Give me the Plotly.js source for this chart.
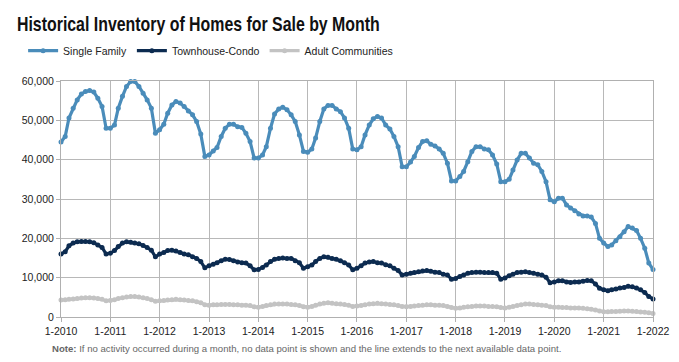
<!DOCTYPE html>
<html>
<head>
<meta charset="utf-8">
<script src="https://cdn.plot.ly/plotly-3.0.1.min.js"></script>
<style>
html,body{margin:0;padding:0;background:#fff;}
#chart{width:679px;height:362px;}
</style>
</head>
<body>
<div id="chart"></div>
<script>
// Monthly inventory, Jan 2010 .. Jan 2022
var startYear = 2010;
var singleFamily = [
  44500, 45900, 50600, 53100, 55200, 56700, 57300, 57600, 57200, 55600, 53500, 48000,
  48000, 48800, 53100, 56100, 58600, 59900, 59900, 58600, 56900, 55200, 53100, 46700,
  47600, 49000, 51800, 53900, 54800, 54400, 53500, 52400, 51400, 49700, 46500, 40800,
  41200, 42200, 43100, 45900, 48000, 49000, 49000, 48400, 48200, 46700, 44600, 40400,
  40400, 41200, 43300, 48000, 51600, 52900, 53300, 52700, 51400, 49700, 46300, 42100,
  41900, 42700, 45500, 49700, 52900, 53800, 53800, 52900, 52200, 50600, 48000, 42700,
  42500, 43300, 46300, 48800, 50400, 51000, 50600, 48800, 47800, 45900, 43300, 38200,
  38200, 39400, 40800, 43100, 44600, 44800, 43900, 43500, 42700, 41600, 39100, 34600,
  34600, 35700, 37000, 39500, 42100, 43300, 43300, 42700, 42500, 41200, 38900, 34400,
  34400, 35000, 37400, 39900, 41600, 41600, 40400, 39100, 38700, 37000, 34400, 29800,
  29300, 30200, 30200, 28500, 27700, 27000, 26200, 25700, 25700, 25400, 23800, 20000,
  18800, 17900, 18300, 19400, 20400, 21700, 23000, 22600, 22000, 20000, 17500, 13700,
  12100
];
var townhouseCondo = [
  16000, 16600, 18100, 18800, 19100, 19200, 19200, 19100, 18900, 18300, 17700, 16000,
  16200, 16900, 17900, 18800, 19100, 19000, 18800, 18600, 18200, 17700, 17000, 15300,
  16000, 16400, 16900, 17000, 16800, 16400, 16000, 15800, 15300, 14900, 14100, 12500,
  13000, 13400, 13800, 14300, 14700, 14600, 14300, 14000, 13800, 13700, 13000, 12000,
  12100, 12600, 13200, 14100, 14700, 14900, 15000, 14900, 14900, 14300, 13800, 12400,
  12800, 13200, 14100, 14900, 15300, 15200, 14900, 14700, 14300, 13800, 13200, 12000,
  12400, 13000, 13700, 14000, 14100, 13800, 13700, 13300, 13000, 12400, 11800, 10700,
  10900, 11100, 11300, 11500, 11700, 11800, 11600, 11400, 11300, 10900, 10700, 9600,
  9800, 10300, 10700, 11100, 11300, 11400, 11400, 11300, 11300, 11300, 11100, 9600,
  9900, 10500, 10900, 11300, 11400, 11500, 11300, 11100, 10900, 10700, 10100, 8700,
  8900, 9200, 9200, 8900, 8800, 8900, 8900, 9100, 9300, 9200, 8400, 7300,
  6900, 6700, 6900, 7100, 7400, 7500, 7800, 7700, 7400, 6900, 6200, 5200,
  4600
];
var adultCommunities = [
  4300, 4400, 4500, 4600, 4700, 4800, 4900, 4900, 4800, 4700, 4500, 4100,
  4200, 4400, 4700, 4900, 5100, 5200, 5200, 5100, 4900, 4700, 4400, 4000,
  4100, 4200, 4300, 4400, 4500, 4400, 4300, 4200, 4100, 3900, 3600, 3100,
  3000, 3100, 3100, 3200, 3200, 3200, 3100, 3100, 3000, 3000, 2900, 2600,
  2500, 2700, 2900, 3100, 3300, 3300, 3300, 3300, 3200, 3100, 2900, 2600,
  2500, 2700, 3000, 3300, 3500, 3600, 3500, 3400, 3300, 3200, 3000, 2700,
  2800, 2900, 3100, 3300, 3400, 3500, 3400, 3300, 3200, 3100, 2900, 2700,
  2600, 2700, 2800, 2900, 3000, 3100, 3100, 3000, 3000, 2900, 2700, 2400,
  2200, 2300, 2500, 2600, 2700, 2800, 2800, 2800, 2700, 2700, 2600, 2400,
  2300, 2500, 2700, 2900, 3100, 3300, 3300, 3200, 3100, 3000, 2900, 2600,
  2500, 2500, 2400, 2400, 2300, 2300, 2300, 2200, 2100, 2000, 1800, 1500,
  1350, 1350, 1400, 1400, 1450, 1500, 1500, 1450, 1400, 1300, 1200, 1100,
  900
];
var seriesNames = ['Single Family', 'Townhouse-Condo', 'Adult Communities'];
var seriesColors = ['#4a8cba', '#0c2b50', '#c3c3c3'];
var yTickVals = [0, 10000, 20000, 30000, 40000, 50000, 60000];

function pad(n){ return (n < 10 ? '0' : '') + n; }
var months = [];
for (var i = 0; i < singleFamily.length; i++) {
  var y = startYear + Math.floor(i / 12), m = (i % 12) + 1;
  months.push(y + '-' + pad(m) + '-01');
}

var allSeries = [singleFamily, townhouseCondo, adultCommunities];
var traces = allSeries.map(function(vals, k){
  return {
    type: 'scatter', mode: 'lines+markers',
    x: months, y: vals, name: seriesNames[k],
    line: {color: seriesColors[k], width: 3.2},
    marker: {color: seriesColors[k], size: 5},
    cliponaxis: false
  };
});
// draw grey first so blue lines sit on top
traces = [traces[2], traces[1], traces[0]];

var baseFont = 'Liberation Sans, Arial, sans-serif';
var layout = {
  width: 679, height: 362,
  margin: {l: 61, r: 26, t: 81, b: 45},
  paper_bgcolor: '#fff', plot_bgcolor: '#fff',
  font: {family: baseFont, size: 10.5, color: '#222'},
  title: {
    text: '<b>Historical Inventory of Homes for Sale by Month</b>',
    font: {family: 'Liberation Sans, Arial, sans-serif', size: 21, color: '#111'},
    x: 17/679, xref: 'container', xanchor: 'left',
    y: 1 - 24/362, yref: 'container', yanchor: 'middle'
  },
  showlegend: true,
  legend: {
    orientation: 'h', traceorder: 'reversed',
    x: -0.064, xanchor: 'left', y: 1.19, yanchor: 'top',
    font: {family: baseFont, size: 10.5, color: '#222'},
    itemwidth: 30, bgcolor: 'rgba(0,0,0,0)'
  },
  xaxis: {
    type: 'date',
    range: [startYear + '-01-01', (startYear + 12) + '-01-01'],
    dtick: 'M12', tick0: startYear + '-01-01', tickformat: '%-m-%Y',
    showgrid: true, gridcolor: '#b8b8b8', gridwidth: 1,
    showline: true, linecolor: '#b0b0b0', linewidth: 1, mirror: true,
    ticks: 'outside', ticklen: 4, tickcolor: '#b0b0b0',
    tickfont: {family: baseFont, size: 10.5, color: '#222'},
    zeroline: false, fixedrange: true
  },
  yaxis: {
    range: [0, 60000], tickvals: yTickVals, tickformat: ',d',
    showgrid: true, gridcolor: '#b8b8b8', gridwidth: 1,
    showline: true, linecolor: '#b0b0b0', linewidth: 1, mirror: true,
    ticks: 'outside', ticklen: 4, tickcolor: '#b0b0b0',
    tickfont: {family: baseFont, size: 10.5, color: '#222'},
    zeroline: false, fixedrange: true
  },
  annotations: [{
    text: '<b>Note:</b> If no activity occurred during a month, no data point is shown and the line extends to the next available data point.',
    xref: 'paper', yref: 'paper', x: (50 - 61)/592, y: -(348 - 317)/236,
    xanchor: 'left', yanchor: 'middle', showarrow: false,
    font: {family: baseFont, size: 9.6, color: '#666'}
  }]
};

Plotly.newPlot('chart', traces, layout, {displayModeBar: false, staticPlot: true}).then(function(){
  // condense the title horizontally to match the narrow bold face of the original
  var t = document.querySelector('.gtitle');
  if (t) {
    var w = t.getBBox().width;
    var target = 363;
    if (w > 0) {
      var s = target / w;
      t.setAttribute('transform', 'translate(17,0) scale(' + s + ',1) translate(-17,0)');
    }
  }
});
</script>
</body>
</html>
